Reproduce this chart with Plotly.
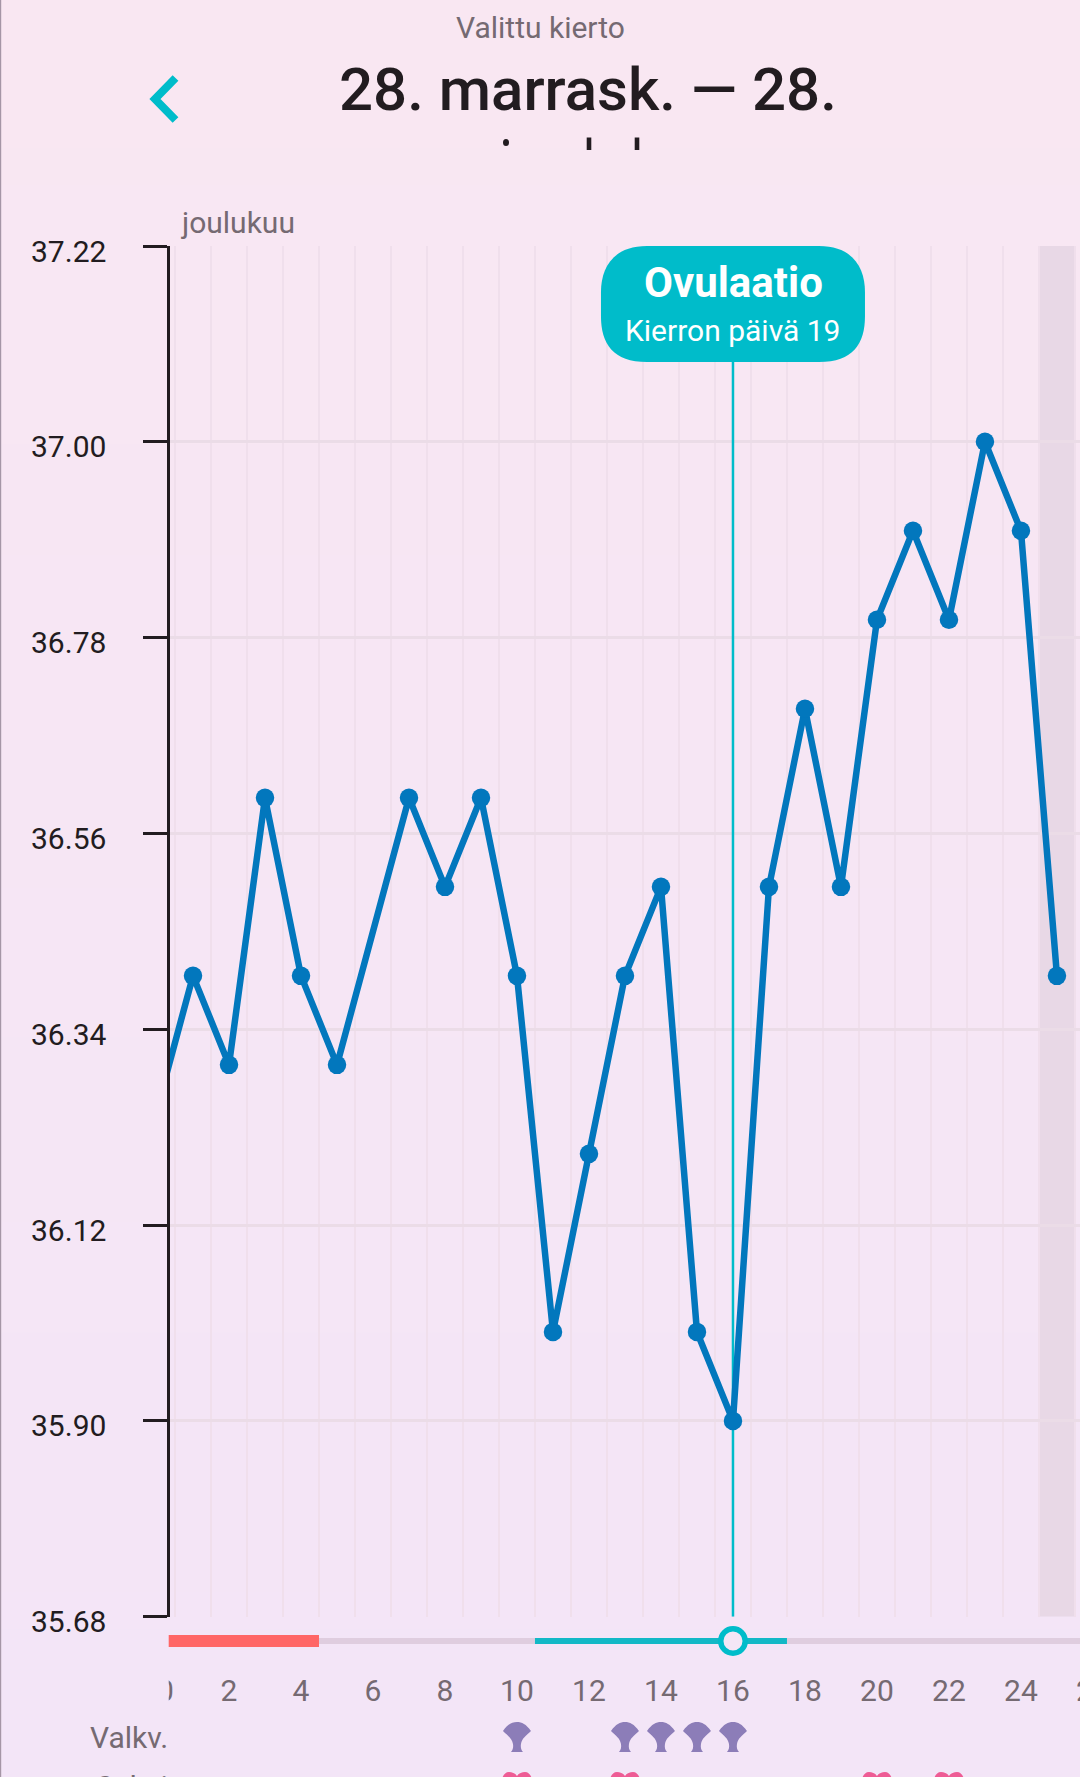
import plotly.graph_objects as go

# ---- data ----
days = [0, 1, 2, 3, 4, 5, 7, 8, 9, 10, 11, 12, 13, 14, 15, 16, 17, 18, 19, 20, 21, 22, 23, 24, 25]
temps = [36.25, 36.40, 36.30, 36.60, 36.40, 36.30, 36.60, 36.50, 36.60, 36.40, 36.00, 36.20, 36.40,
         36.50, 36.00, 35.90, 36.50, 36.70, 36.50, 36.80, 36.90, 36.80, 37.00, 36.90, 36.40]
y_ticks = [37.22, 37.00, 36.78, 36.56, 36.34, 36.12, 35.90, 35.68]
x_ticks = [0, 2, 4, 6, 8, 10, 12, 14, 16, 18, 20, 22, 24, 26]
grid_x = [0.5, 1.5, 2.5, 3.5, 4.5, 5.5, 6.5, 7.5, 8.5, 9.5, 10.5, 11.5, 12.5, 13.5, 14.5, 15.5,
          16.5, 17.5, 18.5, 19.5, 20.5, 21.5, 22.5, 23.5, 24.5, 25.5]
ovulation_day = 16
period_range = [0, 4.5]
cycle_range = [4.5, 26]
fertile_range = [10.5, 17.5]
today_range = [24.5, 25.5]
valkv_days = [10, 13, 14, 15, 16]
seksi_days = [10, 13, 20, 22]

W, H = 1080, 1777
TEAL = "#00BCCA"
BLUE = "#0277BD"
GREY = "#756A72"
DARK = "#221C20"
FONT = "Roboto"

def px(x):
    return x / W

def py(y):
    return 1 - y / H

shapes = []
# background gradient
top_c, bot_c = (249, 231, 242), (243, 229, 247)
N = 48
for i in range(N):
    t = i / (N - 1)
    c = tuple(round(a + (b - a) * t) for a, b in zip(top_c, bot_c))
    shapes.append(dict(type="rect", xref="paper", yref="paper", x0=0, x1=1, y0=0, y1=1 - i / N,
                       fillcolor=f"rgb{c}", line_width=0, layer="below"))
# window left edge
shapes.append(dict(type="rect", xref="paper", yref="paper", x0=0, x1=px(1.2), y0=0, y1=1,
                   fillcolor="#A596A6", line_width=0, layer="below"))
# band for current day
shapes.append(dict(type="rect", xref="x", yref="y", x0=today_range[0], x1=today_range[1],
                   y0=y_ticks[-1], y1=y_ticks[0], fillcolor="#E8D8E6", line_width=0, layer="below"))
# back chevron
shapes.append(dict(type="path", xref="paper", yref="paper",
                   path=f"M {px(175.5)} {py(78)} L {px(155)} {py(99)} L {px(175.5)} {py(120)}",
                   line=dict(color=TEAL, width=8), layer="above"))
# cropped second title line
for xc in (589, 637):
    shapes.append(dict(type="rect", xref="paper", yref="paper", x0=px(xc - 2.3), x1=px(xc + 2.3),
                       y0=py(150), y1=py(137.5), fillcolor=DARK, line_width=0, layer="above"))
shapes.append(dict(type="circle", xref="paper", yref="paper", x0=px(503), x1=px(509),
                   y0=py(146), y1=py(139), fillcolor=DARK, line_width=0, layer="above"))
# ovulation bubble
r = 46
hw, h = 132, 116
shapes.append(dict(type="path", xref="x", yref="y", xsizemode="pixel", ysizemode="pixel",
                   xanchor=ovulation_day, yanchor=y_ticks[0],
                   path=(f"M {-hw + r} 0 L {hw - r} 0 C {hw - 12} 0 {hw} -22 {hw} {-r} "
                         f"L {hw} {-h + r} C {hw} {-h + 18} {hw - 12} {-h} {hw - r} {-h} "
                         f"L {-hw + r} {-h} C {-hw + 12} {-h} {-hw} {-h + 18} {-hw} {-h + r} "
                         f"L {-hw} {-r} C {-hw} -22 {-hw + 12} 0 {-hw + r} 0 Z"),
                   fillcolor=TEAL, line_width=0, layer="above"))
# row glyphs
VALKV_Y, HEART_Y = 1722, 1772
for d in valkv_days:
    shapes.append(dict(type="path", xref="x2", yref="y2", xsizemode="pixel", ysizemode="pixel",
                       xanchor=d, yanchor=VALKV_Y,
                       path=("M -14 -9 C -9 -2 -5 0 0 0 C 5 0 9 -2 14 -9 C 9 -14 5 -16 4 -22 "
                             "C 3.5 -25 4 -28 6 -30 L -6 -30 C -4 -28 -3.5 -25 -4 -22 "
                             "C -5 -16 -9 -14 -14 -9 Z"),
                       fillcolor="#8C7DB8", line_width=0, layer="above"))
for d in seksi_days:
    shapes.append(dict(type="path", xref="x2", yref="y2", xsizemode="pixel", ysizemode="pixel",
                       xanchor=d, yanchor=HEART_Y,
                       path=("M 0 -4 C 2 -1 5 0 8 0 C 12 0 15 -4 15 -9 C 15 -17 6 -22 0 -28 "
                             "C -6 -22 -15 -17 -15 -9 C -15 -4 -12 0 -8 0 C -5 0 -2 -1 0 -4 Z"),
                       fillcolor="#EE5C95", line_width=0, layer="above"))

def label(text, x, y, size, color=GREY, anchor="center", weight=None):
    f = dict(family=FONT, size=size, color=color)
    if weight:
        f["weight"] = weight
    return dict(text=text, x=px(x), y=py(y), xref="paper", yref="paper", xanchor=anchor,
                yanchor="middle", showarrow=False, font=f)

annotations = [
    label("Valittu kierto", 540, 28, 30),
    label("28. marrask. — 28.", 588, 89.5, 60, DARK, weight=500),
    label("joulukuu", 179, 222, 30, anchor="left"),
    label("Valkv.", 170, 1737, 30, anchor="right"),
    label("Seksi", 170, 1786, 30, anchor="right"),
    label("Ovulaatio", 733, 282, 42, "#FFFFFF", weight=700),
    label("Kierron päivä 19", 732, 330, 30, "#FFFFFF"),
]
for v in y_ticks:
    annotations.append(dict(text=f"{v:.2f}", x=px(108), y=v, xref="paper", yref="y", xanchor="right",
                            yanchor="middle", yshift=-5, showarrow=False,
                            font=dict(family=FONT, size=30, color=DARK)))

fig = go.Figure()
# ovulation line
fig.add_trace(go.Scatter(x=[ovulation_day, ovulation_day], y=[y_ticks[-1], y_ticks[0]], mode="lines",
                         line=dict(color=TEAL, width=2.5), xaxis="x", yaxis="y", hoverinfo="skip"))
# temperature curve
fig.add_trace(go.Scatter(x=days, y=temps, mode="lines+markers", line=dict(color=BLUE, width=6.5),
                         marker=dict(color=BLUE, size=18.5), xaxis="x", yaxis="y"))
# cycle strip (bottom subplot; its y axis is in page rows)
STRIP_Y, TICK_Y = 1641, 1693.5
fig.add_trace(go.Scatter(x=cycle_range, y=[STRIP_Y, STRIP_Y], mode="lines",
                         line=dict(color="#DFCDDF", width=6), xaxis="x2", yaxis="y2", hoverinfo="skip"))
fig.add_trace(go.Scatter(x=period_range, y=[STRIP_Y, STRIP_Y], mode="lines",
                         line=dict(color="#FF6666", width=12), xaxis="x2", yaxis="y2", hoverinfo="skip"))
fig.add_trace(go.Scatter(x=fertile_range, y=[STRIP_Y, STRIP_Y], mode="lines",
                         line=dict(color="#12B8C6", width=6), xaxis="x2", yaxis="y2", hoverinfo="skip"))
fig.add_trace(go.Scatter(x=[ovulation_day], y=[STRIP_Y], mode="markers",
                         marker=dict(color="#F4E6F6", size=24.5, line=dict(color=TEAL, width=5.5)),
                         xaxis="x2", yaxis="y2", hoverinfo="skip"))
positions = ["middle right" if t == 0 else "middle center" for t in x_ticks]
fig.add_trace(go.Scatter(x=x_ticks, y=[TICK_Y] * len(x_ticks), mode="text", text=[str(t) for t in x_ticks],
                         textposition=positions, textfont=dict(family=FONT, size=30, color=GREY),
                         cliponaxis=True, xaxis="x2", yaxis="y2", hoverinfo="skip"))

fig.update_layout(
    width=W, height=H, autosize=False, showlegend=False,
    margin=dict(l=0, r=0, t=0, b=0, pad=0),
    paper_bgcolor="#F6E6F4", plot_bgcolor="rgba(0,0,0,0)",
    shapes=shapes, annotations=annotations,
    xaxis=dict(domain=[px(170), 1], range=[0.361, 25.64], tickmode="array", tickvals=grid_x,
               showticklabels=False, ticks="", showgrid=True, gridcolor="#F0DFEC", gridwidth=2,
               zeroline=False, showline=False, anchor="y"),
    yaxis=dict(domain=[py(1616.7), py(246)], range=[y_ticks[-1], y_ticks[0]], tickmode="array",
               tickvals=y_ticks, showticklabels=False, ticks="outside", ticklen=24, tickwidth=3,
               tickcolor=DARK, showline=True, linecolor=DARK, linewidth=3, showgrid=True,
               gridcolor="#EBDCE7", gridwidth=2.5, zeroline=False, anchor="x"),
    xaxis2=dict(domain=[px(168.7), 1], range=[0.325, 25.64], visible=False, anchor="y2"),
    yaxis2=dict(domain=[0, py(1622)], range=[1777, 1622], visible=False, anchor="x2"),
)
fig.write_html("out.html", config={"displayModeBar": False},
               post_script="document.body.style.margin='0';document.body.style.overflow='hidden';")
